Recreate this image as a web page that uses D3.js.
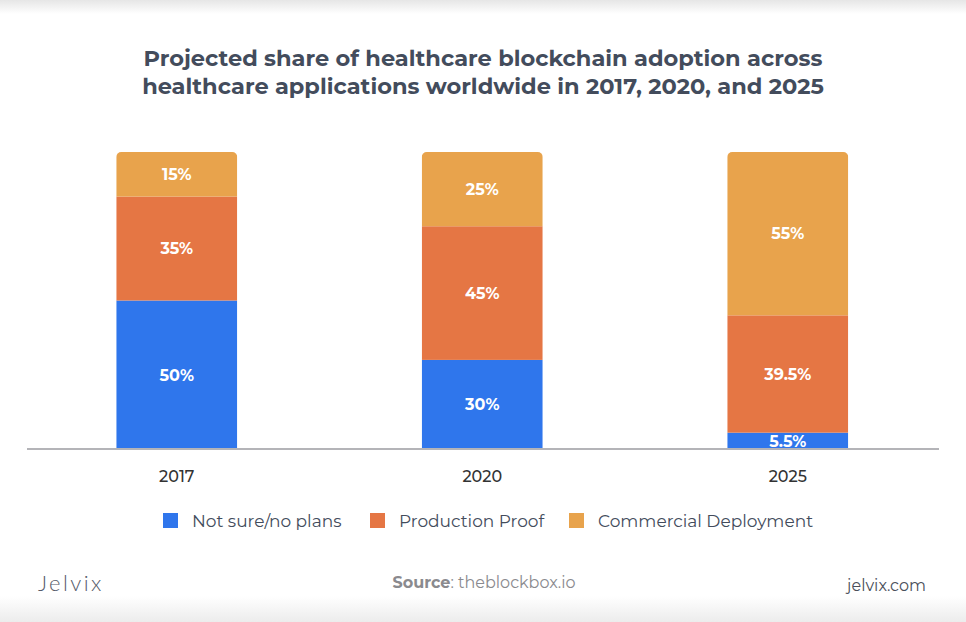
<!DOCTYPE html>
<html><head><meta charset="utf-8">
<script src="https://cdn.jsdelivr.net/npm/d3@7"></script>
<style>body{margin:0;background:#fff;}svg{display:block;}</style>
</head><body>
<svg id="c" width="966" height="622"></svg>
<script>
const years = ["2017", "2020", "2025"];
const seriesNames = ["Not sure/no plans", "Production Proof", "Commercial Deployment"];
const seriesColors = ["#2f76ec", "#e57644", "#e8a34c"];
const notSure = [50, 30, 5.5];
const production = [35, 45, 39.5];
const commercial = [15, 25, 55];
const title = ["Projected share of healthcare blockchain adoption across", "healthcare applications worldwide in 2017, 2020, and 2025"];

const rows = years.map((y, i) => ({year: y, s0: notSure[i], s1: production[i], s2: commercial[i]}));
const keys = ["s0", "s1", "s2"];
const stack = d3.stack().keys(keys)(rows);

const svg = d3.select("#c");
const font = "Montserrat, 'Open Sans', Lato, sans-serif";

const defs = svg.append("defs");
const gTop = defs.append("linearGradient").attr("id", "gt").attr("x1", 0).attr("y1", 0).attr("x2", 0).attr("y2", 1);
gTop.append("stop").attr("offset", 0).attr("stop-color", "#e6e6e6");
gTop.append("stop").attr("offset", 1).attr("stop-color", "#ffffff");
const gBot = defs.append("linearGradient").attr("id", "gb").attr("x1", 0).attr("y1", 0).attr("x2", 0).attr("y2", 1);
gBot.append("stop").attr("offset", 0).attr("stop-color", "#ffffff");
gBot.append("stop").attr("offset", 1).attr("stop-color", "#ececec");
svg.append("rect").attr("x", 0).attr("y", 0).attr("width", 966).attr("height", 14).attr("fill", "url(#gt)");
svg.append("rect").attr("x", 0).attr("y", 596).attr("width", 966).attr("height", 26).attr("fill", "url(#gb)");

svg.append("g").selectAll("text").data(title).join("text")
  .attr("x", 483).attr("y", (d, i) => 66 + i * 28)
  .attr("text-anchor", "middle").attr("font-family", font).attr("font-weight", 700)
  .attr("font-size", 22.5).attr("fill", "#434c5c").text(d => d);

const x = d3.scaleBand().domain(years).range([24, 940.5]).paddingInner(0.604).paddingOuter(0.302);
const y = d3.scaleLinear().domain([0, 100]).range([449, 152]);

const clip = defs.selectAll("clipPath").data(years).join("clipPath").attr("id", (d, i) => "cp" + i);
clip.append("rect").attr("x", d => x(d)).attr("y", y(100)).attr("width", x.bandwidth())
  .attr("height", y(0) - y(100) + 10).attr("rx", 5).attr("ry", 5);

const layers = svg.append("g").selectAll("g").data(stack).join("g")
  .attr("fill", (d, i) => seriesColors[i]);
layers.selectAll("rect").data(d => d).join("rect")
  .attr("clip-path", (d, i) => `url(#cp${i})`)
  .attr("x", d => x(d.data.year)).attr("y", d => y(d[1]))
  .attr("width", x.bandwidth()).attr("height", d => y(d[0]) - y(d[1]));

const labels = svg.append("g").selectAll("g").data(stack).join("g");
labels.selectAll("text").data(d => d).join("text")
  .attr("x", d => x(d.data.year) + x.bandwidth() / 2)
  .attr("y", d => (y(d[0]) + y(d[1])) / 2)
  .attr("dy", "0.36em").attr("text-anchor", "middle")
  .attr("font-family", font).attr("font-weight", 700).attr("font-size", 16)
  .attr("fill", "#ffffff").text(d => (d[1] - d[0]) + "%");

const axis = svg.append("g").attr("transform", "translate(0,449)")
  .call(d3.axisBottom(x).tickSize(0).tickPadding(22));
axis.select(".domain").attr("d", "M27,0H939").attr("stroke", "#b4b4b8").attr("stroke-width", 2);
axis.selectAll(".tick text").attr("font-family", font).attr("font-size", 16)
  .attr("fill", "#333").attr("font-weight", 500);

const legX = [163, 370, 569];
const leg = svg.append("g").selectAll("g").data(seriesNames).join("g")
  .attr("transform", (d, i) => `translate(${legX[i]},513)`);
leg.append("rect").attr("width", 15).attr("height", 15).attr("fill", (d, i) => seriesColors[i]);
leg.append("text").attr("x", 29).attr("y", 8).attr("dy", "0.36em")
  .attr("font-family", font).attr("font-size", 17).attr("fill", "#434c5c").text(d => d);

svg.append("text").attr("x", 38).attr("y", 591).attr("font-family", "Lato, sans-serif")
  .attr("font-weight", 300).attr("font-size", 22).attr("letter-spacing", 2.4).attr("fill", "#555b6a").text("Jelvix");
const src = svg.append("text").attr("x", 484).attr("y", 588).attr("text-anchor", "middle")
  .attr("font-family", font).attr("font-size", 16).attr("fill", "#8a8a8e");
src.append("tspan").attr("font-weight", 700).text("Source");
src.append("tspan").text(": theblockbox.io");
svg.append("text").attr("x", 926).attr("y", 591).attr("text-anchor", "end")
  .attr("font-family", font).attr("font-size", 16).attr("fill", "#4a4f5a").text("jelvix.com");
</script>
</body></html>
